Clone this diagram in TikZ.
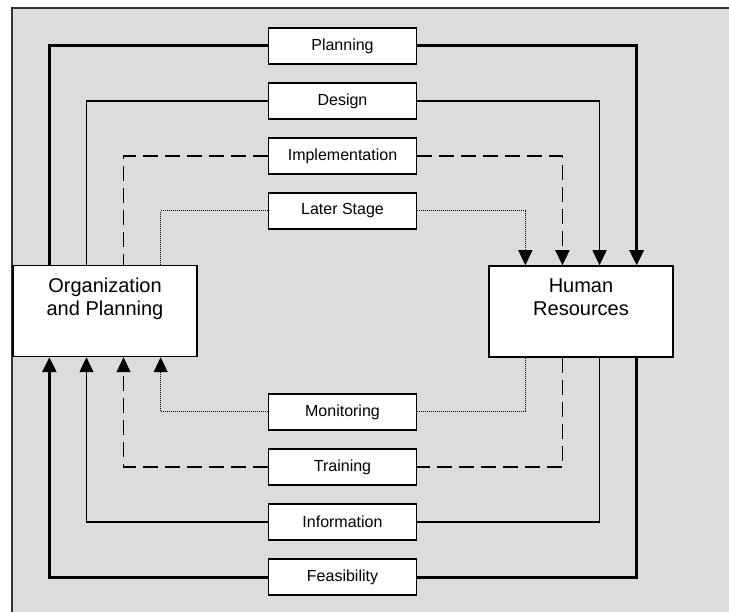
\documentclass[tikz,border=0pt]{standalone}
\usepackage{fontspec}
\setmainfont{Liberation Sans}
\usetikzlibrary{calc,arrows.meta}

\definecolor{panel}{HTML}{DCDCDC}

\tikzset{
  tip/.style={-{Triangle[length=15pt,width=14pt]}},
  stagebox/.style={draw, line width=1.2pt, fill=white, minimum width=148pt,
    minimum height=36pt, inner sep=0pt, font=\fontsize{16pt}{18pt}\selectfont},
  unitbox/.style={draw, line width=1.5pt, fill=white, minimum width=184pt,
    minimum height=91pt, inner sep=0pt},
  unittext/.style={align=center, inner sep=0pt, anchor=north,
    font=\fontsize{20pt}{23pt}\selectfont},
  heavy/.style={line width=3pt},
  plain/.style={line width=1.2pt},
  broken/.style={line width=1.6pt, dash pattern=on 15pt off 7pt},
  fine/.style={line width=1pt, dash pattern=on 1pt off 1pt},
}

\begin{document}
\begin{tikzpicture}[x=1pt, y=-1pt]
\useasboundingbox (0,0) rectangle (729,612);

% background panel with its top and left rule
\fill[panel] (12,8) rectangle (740,620);
\draw[line width=1.5pt, black!80] (740,8) -- (12,8) -- (12,620);

% the two units
\node[unitbox] (org) at (105,311) {};
\node[unittext] (orgtext) at ($(org.north)+(0,13)$) {Organization\\and Planning};
\node[unitbox] (hr) at (581,311.5) {};
\node[unittext] (hrtext) at ($(hr.north)+(0,13.5)$) {Human\\Resources};

% stage labels
\node[stagebox] (plan)  at (342.5,46)  {Planning};
\node[stagebox] (des)   at (342.5,101) {Design};
\node[stagebox] (impl)  at (342.5,156) {Implementation};
\node[stagebox] (later) at (342.5,211) {Later Stage};
\node[stagebox] (mon)   at (342.5,412) {Monitoring};
\node[stagebox] (train) at (342.5,467) {Training};
\node[stagebox] (info)  at (342.5,522) {Information};
\node[stagebox] (feas)  at (342.5,577) {Feasibility};

% attachment points along the unit edges
\foreach \k/\f in {1/0.2,2/0.4,3/0.6,4/0.8}{
  \coordinate (ot\k) at ($(org.north west)!\f!(org.north east)$);
  \coordinate (ob\k) at ($(org.south west)!\f!(org.south east)$);
  \coordinate (ht\k) at ($(hr.north west)!\f!(hr.north east)$);
  \coordinate (hb\k) at ($(hr.south west)!\f!(hr.south east)$);
}

% upper flows: organization -> stage -> human resources
\draw[heavy] (plan.west) -| (ot1);
\draw[heavy, tip] (plan.east) -| (ht4);
\draw[plain] (des.west) -| (ot2);
\draw[plain, tip] (des.east) -| (ht3);
\draw[broken] (impl.west) -| (ot3);
\draw[broken, tip] (impl.east) -| (ht2);
\draw[fine] (later.west) -| (ot4);
\draw[fine, tip] (later.east) -| (ht1);

% lower flows: human resources -> stage -> organization
\draw[fine] (hb1) |- (mon.east);
\draw[fine, tip] (mon.west) -| (ob4);
\draw[broken] (hb2) |- (train.east);
\draw[broken, tip] (train.west) -| (ob3);
\draw[plain] (hb3) |- (info.east);
\draw[plain, tip] (info.west) -| (ob2);
\draw[heavy] (hb4) |- (feas.east);
\draw[heavy, tip] (feas.west) -| (ob1);
\end{tikzpicture}
\end{document}
